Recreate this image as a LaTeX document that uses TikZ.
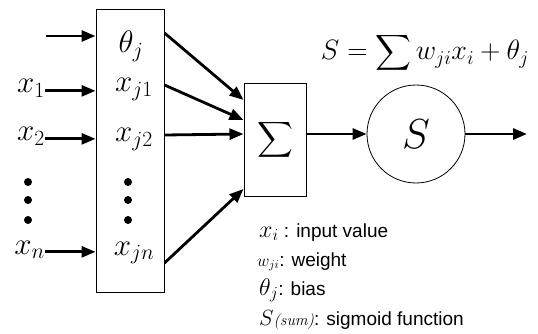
\RequirePackage{fix-cm}
\documentclass[tikz,border=0pt]{standalone}
\usepackage{amsmath}
\usepackage{fontspec}
\setsansfont{Liberation Sans}
\usepackage{tikz}
\usetikzlibrary{positioning,arrows.meta,calc}

\newcommand\keymath[2]{{\fontsize{#1}{#1}\selectfont$#2$}}

\tikzset{
  sig/.style={-{Triangle[length=14pt,width=11pt]}, line width=2.8pt},
  frame/.style={draw, line width=1pt},
  lbl/.style={inner sep=0pt, font=\fontsize{31}{36}\selectfont},
  bullet/.style={circle, fill, inner sep=0pt, minimum size=8pt},
  keyline/.style={anchor=base west, inner sep=0pt, font=\fontsize{19}{22}\selectfont\sffamily},
}

\begin{document}
\begin{tikzpicture}[x=1pt, y=-1pt]
  \useasboundingbox (0,0) rectangle (538,334);

  % weight box and its entries
  \node[frame, minimum width=68pt, minimum height=282pt] (wbox) at (130,151) {};
  \node[lbl, anchor=base] (th) at (131,53) {$\theta_j$};
  \node[lbl, anchor=base] (xj1) at (134,92) {$x_{j1}$};
  \node[lbl, anchor=base] (xj2) at (134,142) {$x_{j2}$};
  \node[lbl, anchor=base] (xjn) at (134,255) {$x_{jn}$};

  % inputs
  \coordinate (b0) at (46,36);
  \node[lbl, anchor=base east] (x1) at (45,93) {$x_1$};
  \node[lbl, anchor=base east] (x2) at (45,141) {$x_2$};
  \node[lbl, anchor=base east] (xn) at (45,254) {$x_n$};
  \foreach \y [count=\i] in {182,200,220} {
    \node[bullet] (ldot\i) at (28,\y) {};
    \node[bullet] (rdot\i) at (128,\y) {};
  }

  % summation and sigmoid
  \node[frame, minimum width=62pt, minimum height=112pt,
        font=\fontsize{30}{36}\selectfont] (sbox) at (275,140) {$\displaystyle\sum$};
  \node[frame, line width=0.8pt, circle, minimum size=98pt,
        font=\fontsize{42}{48}\selectfont] (circ) at (416,134) {$S$};
  \coordinate (out) at (527,134);
  \node[anchor=base, inner sep=0pt, font=\fontsize{28}{34}\selectfont] (eq) at (425,60)
    {$S=\displaystyle\sum w_{ji}x_i+\theta_j$};

  \draw[sig] (b0) -- (wbox.west |- b0);
  \draw[sig] (x1.mid east) -- (wbox.west |- x1.mid east);
  \draw[sig] (x2.mid east) -- (wbox.west |- x2.mid east);
  \draw[sig] (xn.mid east) -- (wbox.west |- xn.mid east);

  \draw[sig] ($(wbox.east)+(0,-118)$) -- ($(sbox.west)+(0,-40)$);
  \draw[sig] ($(wbox.east)+(0,-66)$) -- ($(sbox.west)+(0,-20)$);
  \draw[sig] ($(wbox.east)+(0,-16)$) -- ($(sbox.west)+(0,-6)$);
  \draw[sig] ($(wbox.east)+(0,112)$) -- ($(sbox.west)+(0,49)$);
  \draw[sig] (sbox.east |- circ.west) -- (circ.west);
  \draw[sig] (circ.east) -- (out);

  % legend
  \node[keyline] (k1) at (259,237) {\keymath{24}{x_i} : input value};
  \node[keyline] (k2) at (257,266) {\keymath{17}{w_{ji}}: weight};
  \node[keyline] (k3) at (259,295) {\keymath{24}{\theta_j}: bias};
  \node[keyline] (k4) at (259,325)
    {\keymath{22}{S}{\fontsize{16}{18}\selectfont\rmfamily\itshape(sum)}: sigmoid function};
\end{tikzpicture}
\end{document}
